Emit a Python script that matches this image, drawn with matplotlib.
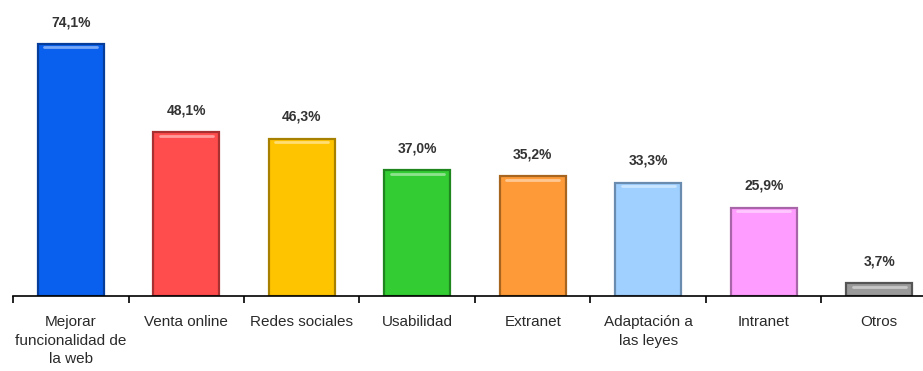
import numpy as np
import matplotlib.pyplot as plt

categories = ["Mejorar\nfuncionalidad de\nla web", "Venta online", "Redes sociales",
              "Usabilidad", "Extranet", "Adaptación a\nlas leyes", "Intranet", "Otros"]
values = [74.1, 48.1, 46.3, 37.0, 35.2, 33.3, 25.9, 3.7]
value_labels = ["74,1%", "48,1%", "46,3%", "37,0%", "35,2%", "33,3%", "25,9%", "3,7%"]
colors = ["#0A60EE", "#FF4D4D", "#FFC400", "#33CC33", "#FF9A38", "#9FD0FF", "#FF9CFF", "#9A9A9A"]
edges = ["#063C9A", "#A83030", "#A88000", "#1F861F", "#A8651F", "#6A8CAF", "#A866A8", "#555555"]

plt.rcParams['font.family'] = ['Liberation Sans', 'DejaVu Sans']

fig = plt.figure(figsize=(9.23, 3.71), dpi=100)
W, H = 923, 371
ax = fig.add_axes([13 / W, (H - 296) / H, 924 / W, 296 / H])

x = np.arange(len(categories))
ax.bar(x, values, width=0.57, color=colors, edgecolor=edges, linewidth=1.6, zorder=2)
# light highlight along the top of each bar
for xi, v in zip(x, values):
    ax.plot([xi - 0.23, xi + 0.23], [v - 1.0, v - 1.0], color="white", alpha=0.45,
            linewidth=2, solid_capstyle="round", zorder=3)

for xi, v, lab in zip(x, values, value_labels):
    ax.annotate(lab, (xi, v), xytext=(0, 13), textcoords="offset points",
                ha="center", va="baseline", fontsize=10, fontweight="bold", color="#333333")

ax.set_xlim(-0.5, 7.5)
ax.set_ylim(0, 296 / 3.4)

for s in ["top", "right", "left"]:
    ax.spines[s].set_visible(False)
ax.spines["bottom"].set_linewidth(1.2)
ax.spines["bottom"].set_color("black")
ax.set_yticks([])

ax.set_xticks(x)
ax.set_xticklabels(categories, fontsize=11, color="#2a2a2a", linespacing=1.38, va="top")
ax.tick_params(axis="x", which="major", length=0, pad=14)
ax.set_xticks(np.arange(-0.5, 7.5, 1.0), minor=True)
ax.tick_params(axis="x", which="minor", length=5, width=1.2, direction="out")

fig.savefig("out.png", dpi=100)
